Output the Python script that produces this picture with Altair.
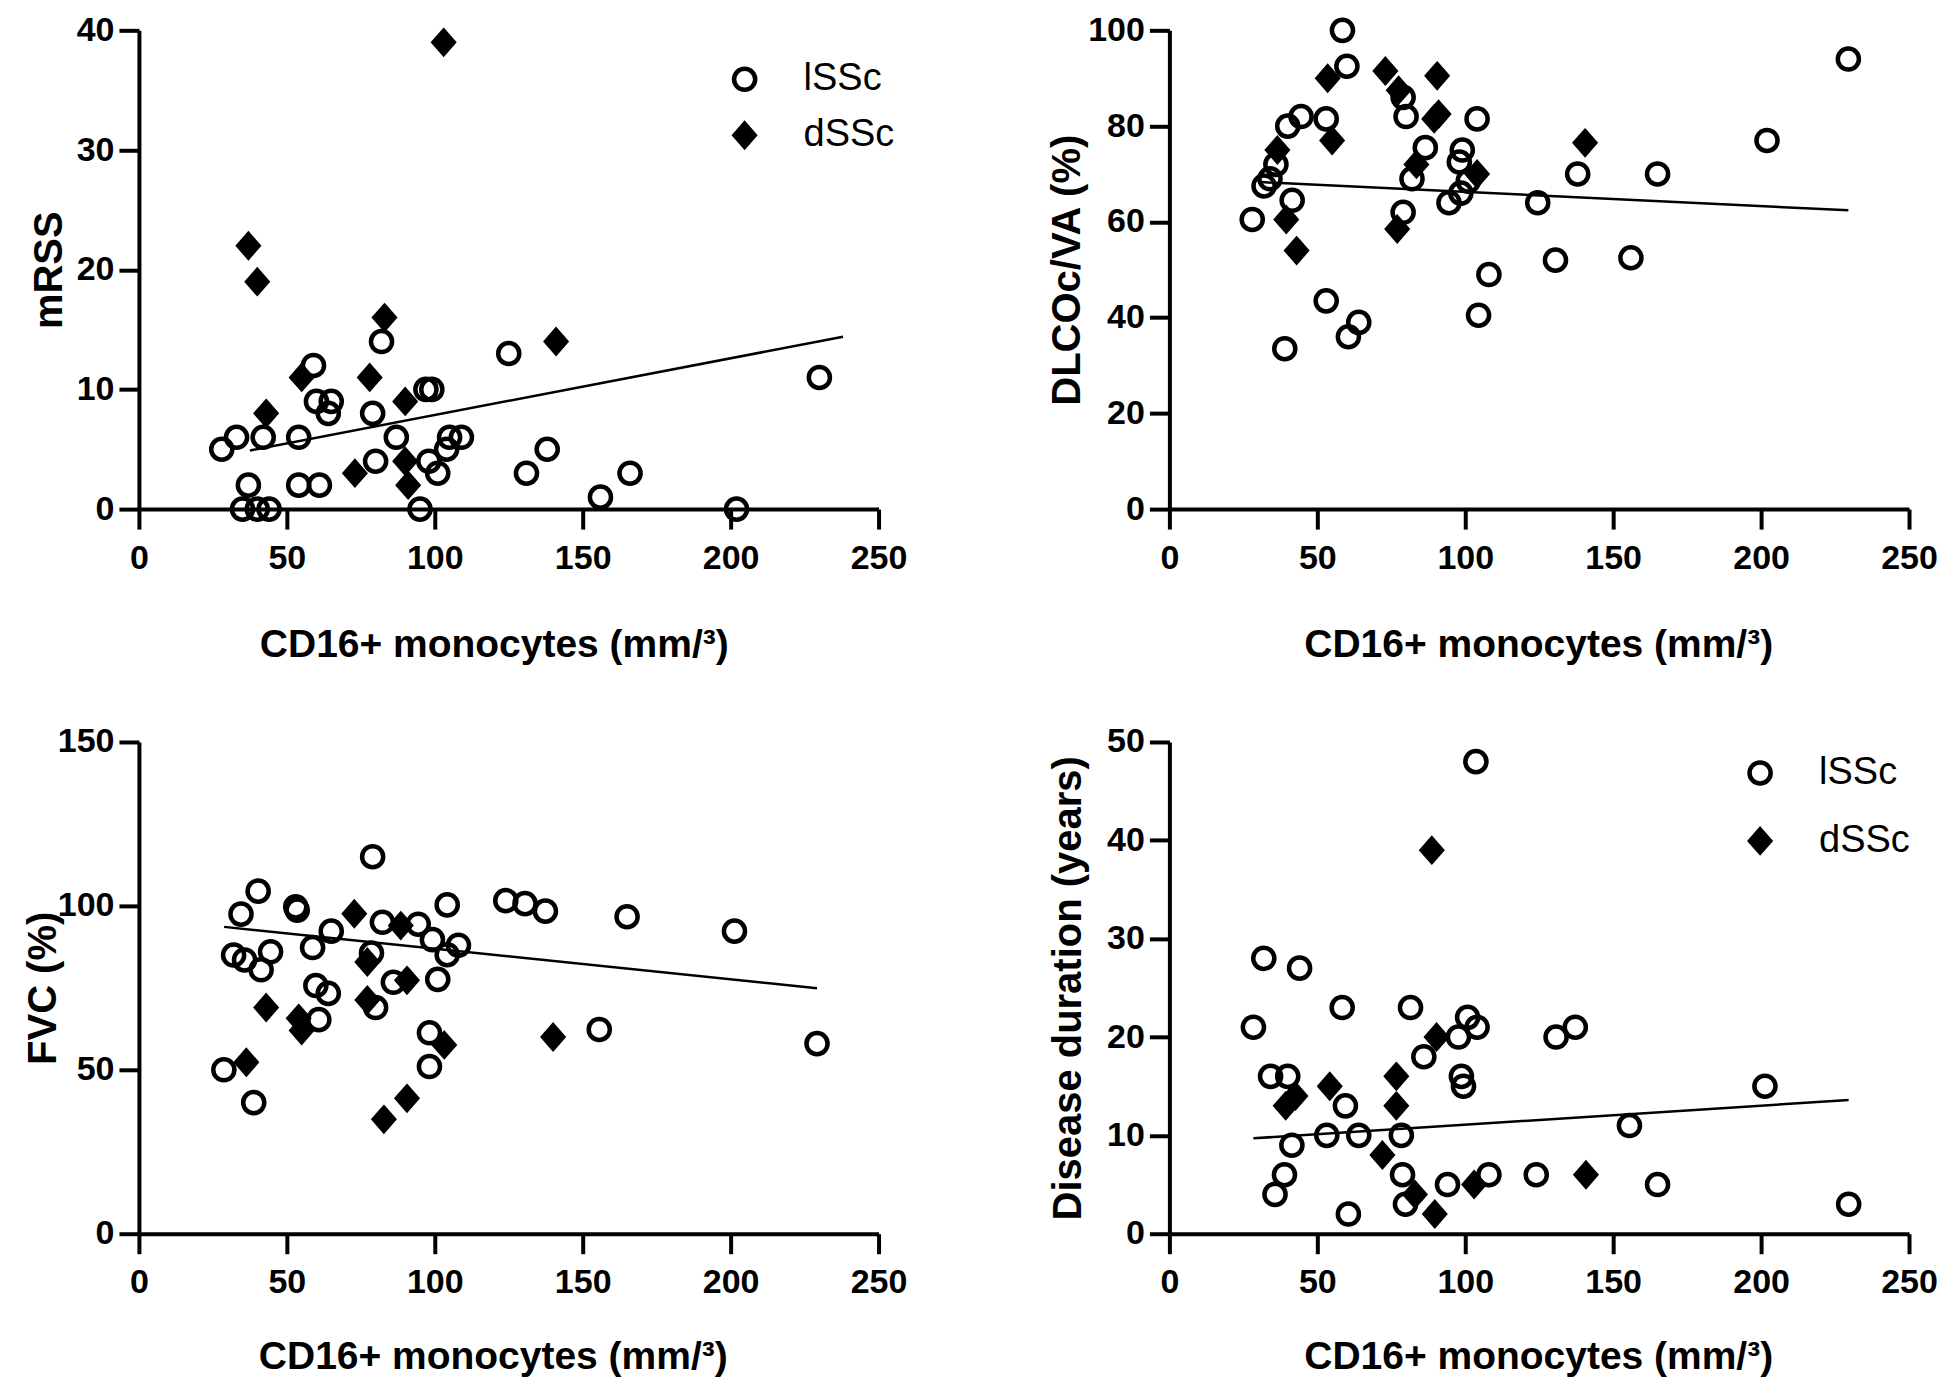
import altair as alt
import pandas as pd

XLABEL = "CD16+ monocytes (mm/³)"
FONT = "Liberation Sans"

# ---------------- Panel 1: mRSS ----------------
mrss_l_x = [28, 33, 37, 35, 40, 44, 42, 54, 54, 61, 59, 60, 64, 65, 79, 82, 80, 87, 95, 98, 97, 99,
            101, 104, 105, 109, 125, 131, 138, 156, 166, 202, 230]
mrss_l_y = [5, 6, 2, 0, 0, 0, 6, 6, 2, 2, 12, 9, 8, 9, 8, 14, 4, 6, 0, 4, 10, 10,
            3, 5, 6, 6, 13, 3, 5, 1, 3, 0, 11]
mrss_d_x = [37, 40, 43, 55, 78, 73, 83, 90, 90, 91, 103, 141]
mrss_d_y = [22, 19, 8, 11, 11, 3, 16, 9, 4, 2, 39, 14]
mrss_fit_x = [37.5, 238]
mrss_fit_y = [4.9, 14.4]

# ---------------- Panel 2: DLCOc/VA ----------------
dlco_l_x = [28, 32, 34, 36, 39, 40, 41.5, 44.5, 53, 53, 58.5, 60, 60.5, 64, 79, 80, 79, 82, 86.5,
            94.5, 98, 99, 98.5, 101, 104, 104.5, 108, 124.5, 130.5, 138, 156, 165, 202, 229.5]
dlco_l_y = [60.5, 67.5, 69, 72, 33.5, 80, 64.5, 82, 81.5, 43.5, 100, 92.5, 36, 39, 86, 82, 62, 69, 75.5,
            64, 72.5, 75, 66, 68.5, 81.5, 40.5, 49, 64, 52, 70, 52.5, 70, 77, 94]
dlco_d_x = [36.5, 39.5, 43, 53.5, 55, 73, 77, 77.5, 83.5, 90.5, 89.5, 91, 104, 140.5]
dlco_d_y = [75, 60.5, 54, 90, 77, 91.5, 58.5, 87.5, 72, 90.5, 81.5, 82.5, 70, 76.5]
dlco_fit_x = [31, 229.5]
dlco_fit_y = [68.3, 62.4]

# ---------------- Panel 3: FVC ----------------
fvc_l_x = [28.7, 32, 34.5, 35.7, 38.8, 40.3, 41.3, 44.5, 53, 53.5, 58.7, 59.8, 60.8, 64, 65, 79, 78.6,
           80, 82.3, 86, 94.4, 98.2, 98.2, 99.2, 101, 104.2, 104.2, 108, 124, 130.5, 137.4, 155.6,
           165, 201.3, 229.2]
fvc_l_y = [50, 85, 97.5, 83.5, 40, 104.5, 80.5, 86, 99.7, 98.7, 87.3, 75.7, 65.3, 73.3, 92.3, 115, 85.6,
           69, 95, 76.7, 94.4, 61.3, 51, 89.7, 77.6, 100.3, 85.1, 88, 101.6, 100.7, 98.4, 62.3,
           96.7, 92.3, 58]
fvc_d_x = [36.3, 43, 54, 55, 72.8, 77.2, 77.2, 82.8, 88.5, 90.6, 90.6, 103.2, 140]
fvc_d_y = [52.3, 69, 65.7, 62, 97.6, 82.9, 71.3, 34.9, 94, 77.3, 41.3, 57.6, 60]
fvc_fit_x = [28.8, 229.2]
fvc_fit_y = [93.6, 74.9]

# ---------------- Panel 4: Disease duration ----------------
dur_l_x = [28.4, 31.9, 34.2, 35.7, 38.9, 40, 41.4, 44, 53.2, 58.4, 59.5, 60.5, 64, 78.4, 78.8, 79.8,
           81.5, 86, 94, 97.7, 98.7, 99.4, 100.8, 104, 103.6, 108, 124, 130.7, 137.2, 155.5, 165,
           201.3, 229.6]
dur_l_y = [21, 28, 16, 4, 6, 16, 9, 27, 10, 23, 13, 2, 10, 10, 6, 3,
           23, 18, 5, 20, 16, 15, 22, 21, 48, 6, 6, 20, 21, 11, 5,
           15, 3]
dur_d_x = [39.3, 42.6, 54.2, 72, 76.7, 76.7, 83, 88.7, 90.3, 89.7, 103, 140.8]
dur_d_y = [13, 14, 15, 8, 16, 13, 4, 39, 20, 2, 5, 6]
dur_fit_x = [28.4, 229.6]
dur_fit_y = [9.7, 13.6]

GROUPS = ["lSSc", "dSSc"]
CIRCLE = "M0.88,0A0.88,0.88,0,1,1,-0.88,0A0.88,0.88,0,1,1,0.88,0Z"
DIAMOND = "M0,-0.96L0.84,0L0,0.96L-0.84,0Z"
SYM_SIZE = 576
SW = 4.5


def pts_df(lx, ly, dx, dy):
    return pd.DataFrame({
        "x": lx + dx,
        "y": ly + dy,
        "group": [GROUPS[0]] * len(lx) + [GROUPS[1]] * len(dx),
    })


def fit_df(fx, fy):
    return pd.DataFrame({"x": fx, "y": fy})


def panel(pts, fit, ytitle, ymax, yticks, height, ytitle_x, xtitle_x, xtitle_y,
          legend_xy=None, row_pad=18):
    x_enc = alt.X(
        "x:Q",
        scale=alt.Scale(domain=[0, 250], nice=False),
        axis=alt.Axis(values=[0, 50, 100, 150, 200, 250], title=XLABEL,
                      titleX=xtitle_x, titleY=xtitle_y, titleAlign="center",
                      titleBaseline="middle", labelPadding=12, labelFlush=False),
    )
    y_enc = alt.Y(
        "y:Q",
        scale=alt.Scale(domain=[0, ymax], nice=False),
        axis=alt.Axis(values=yticks, title=ytitle, titleX=ytitle_x, titleY=height / 2,
                      titleAngle=270, titleAlign="center", titleBaseline="middle",
                      titleFontSize=40, labelPadding=5, labelFlush=False),
    )
    if legend_xy is not None:
        lg = alt.Legend(orient="none", legendX=legend_xy[0], legendY=legend_xy[1], title=None,
                        labelFont=FONT, labelFontSize=38, labelFontWeight="normal",
                        labelColor="black", symbolSize=SYM_SIZE, symbolStrokeWidth=SW,
                        symbolStrokeColor="black", rowPadding=row_pad, labelOffset=40,
                        padding=0)
    else:
        lg = None
    points = alt.Chart(pts).mark_point(opacity=1, strokeWidth=SW, size=SYM_SIZE).encode(
        x=x_enc,
        y=y_enc,
        shape=alt.Shape("group:N", scale=alt.Scale(domain=GROUPS, range=[CIRCLE, DIAMOND]),
                        legend=lg),
        fill=alt.Fill("group:N", scale=alt.Scale(domain=GROUPS, range=["transparent", "black"]),
                      legend=lg),
        stroke=alt.Stroke("group:N", scale=alt.Scale(domain=GROUPS, range=["black", "black"]),
                          legend=lg),
    )
    line = alt.Chart(fit).mark_line(color="black", strokeWidth=2.5).encode(
        x=alt.X("x:Q"), y=alt.Y("y:Q")
    )
    return alt.layer(line, points).properties(width=740, height=height)


p1 = panel(pts_df(mrss_l_x, mrss_l_y, mrss_d_x, mrss_d_y), fit_df(mrss_fit_x, mrss_fit_y),
           "mRSS", 40, [0, 10, 20, 30, 40], 479, -89, 355, 135,
           legend_xy=(587, 30), row_pad=15)
p2 = panel(pts_df(dlco_l_x, dlco_l_y, dlco_d_x, dlco_d_y), fit_df(dlco_fit_x, dlco_fit_y),
           "DLCOc/VA (%)", 100, [0, 20, 40, 60, 80, 100], 479, -102, 369, 135)
p3 = panel(pts_df(fvc_l_x, fvc_l_y, fvc_d_x, fvc_d_y), fit_df(fvc_fit_x, fvc_fit_y),
           "FVC (%)", 150, [0, 50, 100, 150], 492, -95, 354, 123)
p4 = panel(pts_df(dur_l_x, dur_l_y, dur_d_x, dur_d_y), fit_df(dur_fit_x, dur_fit_y),
           "Disease duration (years)", 50, [0, 10, 20, 30, 40, 50], 492, -101, 369, 123,
           legend_xy=(572, 12), row_pad=27)

chart = alt.concat(
    p1, p2, p3, p4, columns=2, spacing={"row": 233, "column": 291}, bounds="flush"
).resolve_scale(
    x="independent", y="independent", shape="independent", fill="independent",
    stroke="independent"
).resolve_legend(
    shape="independent", fill="independent", stroke="independent"
).properties(
    padding={"left": 16, "top": 2, "right": 0, "bottom": 0}
).configure_view(
    strokeWidth=0
).configure_axis(
    grid=False, domainColor="black", domainWidth=4, tickColor="black", tickWidth=4,
    tickSize=20, labelFont=FONT, labelFontSize=34, labelFontWeight="bold", labelColor="black",
    titleFont=FONT, titleFontSize=39, titleFontWeight="bold", titleColor="black",
)

chart.save("out.html", embed_options={"renderer": "svg", "actions": False})
